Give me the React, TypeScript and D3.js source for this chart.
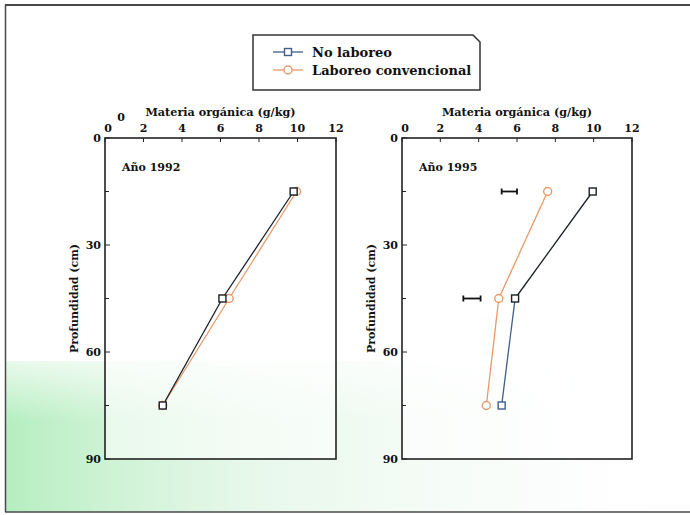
import React from "react";
import * as d3 from "d3";

// ---- data ----
const depths = [15, 45, 75];
const xTicks = [0, 2, 4, 6, 8, 10, 12];
const yTicksMajor = [0, 30, 60, 90];
const yTicksMinor = [15, 45, 75];
const seriesNames = ["No laboreo", "Laboreo convencional"];
const noLaboreo1992 = [9.8, 6.1, 3.0];
const convencional1992 = [9.95, 6.45, 3.0];
const noLaboreo1995 = [9.95, 5.9, 5.2];
const convencional1995 = [7.6, 5.05, 4.4];
const errDepths1995 = [15, 45];
const errLow1995 = [5.2, 3.2];
const errHigh1995 = [6.0, 4.1];
const panelTitles = ["Año 1992", "Año 1995"];
const xTitle = "Materia orgánica (g/kg)";
const yTitle = "Profundidad (cm)";

const W = 690;
const H = 515;
const FONT = "'DejaVu Serif', serif";
const BLUE = "#3f5f8c";
const DARK = "#1b1f27";
const ORANGE = "#e79a68";

type PanelProps = {
  x0: number;
  x1: number;
  title: string;
  nl: number[];
  cv: number[];
  nlSegColors: string[];
  err?: { d: number[]; lo: number[]; hi: number[] };
  strayZero?: boolean;
};

const Y0 = 138;
const Y1 = 459;

function Panel({ x0, x1, title, nl, cv, nlSegColors, err, strayZero }: PanelProps) {
  const x = d3.scaleLinear().domain([0, 12]).range([x0, x1]);
  const y = d3.scaleLinear().domain([0, 90]).range([Y0, Y1]);
  const line = d3
    .line<[number, number]>()
    .x((d) => x(d[0]))
    .y((d) => y(d[1]));
  const nlPts: [number, number][] = nl.map((v, i) => [v, depths[i]]);
  const cvPts: [number, number][] = cv.map((v, i) => [v, depths[i]]);
  const cx = (x0 + x1) / 2;
  const cy = (Y0 + Y1) / 2;
  return (
    <g>
      <rect x={x0} y={Y0} width={x1 - x0} height={Y1 - Y0} fill="#ffffff" fillOpacity={0.55} />
      {/* axis title */}
      <text x={cx} y={116} textAnchor="middle" fontFamily={FONT} fontWeight="bold" fontSize={11.2} fill="#111">
        {xTitle}
      </text>
      {strayZero && (
        <text x={x0 + 16} y={121} textAnchor="middle" fontFamily={FONT} fontWeight="bold" fontSize={11} fill="#111">
          0
        </text>
      )}
      {/* x ticks */}
      {xTicks.map((t) => (
        <g key={t}>
          <line x1={x(t)} x2={x(t)} y1={Y0} y2={Y0 + 4} stroke="#222" strokeWidth={1} />
          <text x={x(t) + (t === 0 ? 3 : 0)} y={132} textAnchor="middle" fontFamily={FONT} fontWeight="bold" fontSize={11} fill="#111">
            {t}
          </text>
        </g>
      ))}
      {/* y ticks */}
      {yTicksMajor.map((t) => (
        <g key={t}>
          <line x1={x0} x2={x0 + 5} y1={y(t)} y2={y(t)} stroke="#222" strokeWidth={1} />
          <text x={x0 - 4} y={y(t) + 4} textAnchor="end" fontFamily={FONT} fontWeight="bold" fontSize={11} fill="#111">
            {t}
          </text>
        </g>
      ))}
      {yTicksMinor.map((t) => (
        <line key={t} x1={x0} x2={x0 + 4} y1={y(t)} y2={y(t)} stroke="#222" strokeWidth={1} />
      ))}
      <text
        transform={`translate(${x0 - 27},${cy}) rotate(-90)`}
        textAnchor="middle"
        fontFamily={FONT}
        fontWeight="bold"
        fontSize={11}
        fill="#111"
      >
        {yTitle}
      </text>
      <text x={x0 + 17} y={171} fontFamily={FONT} fontWeight="bold" fontSize={11} fill="#111">
        {title}
      </text>
      {/* frame */}
      <rect x={x0} y={Y0} width={x1 - x0} height={Y1 - Y0} fill="none" stroke="#222" strokeWidth={1.6} />
      {/* error bars */}
      {err &&
        err.d.map((d, i) => (
          <g key={i} stroke="#111" strokeWidth={1.8}>
            <line x1={x(err.lo[i])} x2={x(err.hi[i])} y1={y(d)} y2={y(d)} />
            <line x1={x(err.lo[i])} x2={x(err.lo[i])} y1={y(d) - 3} y2={y(d) + 3} />
            <line x1={x(err.hi[i])} x2={x(err.hi[i])} y1={y(d) - 3} y2={y(d) + 3} />
          </g>
        ))}
      {/* convencional */}
      <path d={line(cvPts) || ""} fill="none" stroke={ORANGE} strokeWidth={1.3} />
      {/* no laboreo segments */}
      {nlPts.slice(1).map((p, i) => (
        <path key={i} d={line([nlPts[i], p]) || ""} fill="none" stroke={nlSegColors[i]} strokeWidth={1.3} />
      ))}
      {cvPts.map((p, i) => (
        <circle key={i} cx={x(p[0])} cy={y(p[1])} r={4} fill="#fff" stroke={ORANGE} strokeWidth={1.4} />
      ))}
      {nlPts.map((p, i) => (
        <rect
          key={i}
          x={x(p[0]) - 3.5}
          y={y(p[1]) - 3.5}
          width={7}
          height={7}
          fill="#fff"
          stroke={i === 0 ? DARK : nlSegColors[i - 1]}
          strokeWidth={1.4}
        />
      ))}
    </g>
  );
}

export default function App() {
  return (
    <svg width={W} height={H} style={{ position: "absolute", left: 0, top: 0, background: "#fff" }}>
      <defs>
        <linearGradient id="greenH" x1="0" y1="0" x2="1" y2="0">
          <stop offset="0" stopColor="#a8ebb4" stopOpacity={0.85} />
          <stop offset="0.35" stopColor="#cdf0d4" stopOpacity={0.5} />
          <stop offset="0.75" stopColor="#e8f6ec" stopOpacity={0.25} />
          <stop offset="1" stopColor="#ffffff" stopOpacity={0} />
        </linearGradient>
        <linearGradient id="greenV" x1="0" y1="0" x2="0" y2="1">
          <stop offset="0" stopColor="#ffffff" stopOpacity={0.7} />
          <stop offset="1" stopColor="#ffffff" stopOpacity={0} />
        </linearGradient>
      </defs>
      <rect x={0} y={0} width={W} height={H} fill="#fff" />
      <rect x={5} y={361} width={W - 5} height={151} fill="url(#greenH)" />
      <rect x={5} y={361} width={W - 5} height={60} fill="url(#greenV)" />
      {/* outer frame */}
      <line x1={5} x2={W} y1={5} y2={5} stroke="#4a4a4a" strokeWidth={2} />
      <line x1={5.5} x2={5.5} y1={5} y2={512} stroke="#4a4a4a" strokeWidth={1.5} />
      <line x1={5} x2={W} y1={512} y2={512} stroke="#4a4a4a" strokeWidth={1.5} />

      {/* legend */}
      <path d="M253,35 L473,35 L480,42 L480,90 L253,90 Z" fill="#fff" stroke="#333" strokeWidth={1.5} />
      {seriesNames.map((n, i) => {
        const yy = 52 + i * 18;
        const col = i === 0 ? BLUE : ORANGE;
        return (
          <g key={n}>
            <line x1={273} x2={303} y1={yy} y2={yy} stroke={col} strokeWidth={1.3} />
            {i === 0 ? (
              <rect x={284.5} y={yy - 3.5} width={7} height={7} fill="#fff" stroke={col} strokeWidth={1.4} />
            ) : (
              <circle cx={288} cy={yy} r={4} fill="#fff" stroke={col} strokeWidth={1.4} />
            )}
            <text x={312} y={yy + 4.5} fontFamily={FONT} fontWeight="bold" fontSize={13} fill="#111">
              {n}
            </text>
          </g>
        );
      })}

      <Panel
        x0={105}
        x1={336}
        title={panelTitles[0]}
        nl={noLaboreo1992}
        cv={convencional1992}
        nlSegColors={[DARK, DARK]}
        strayZero
      />
      <Panel
        x0={402}
        x1={632}
        title={panelTitles[1]}
        nl={noLaboreo1995}
        cv={convencional1995}
        nlSegColors={[DARK, BLUE]}
        err={{ d: errDepths1995, lo: errLow1995, hi: errHigh1995 }}
      />
    </svg>
  );
}
